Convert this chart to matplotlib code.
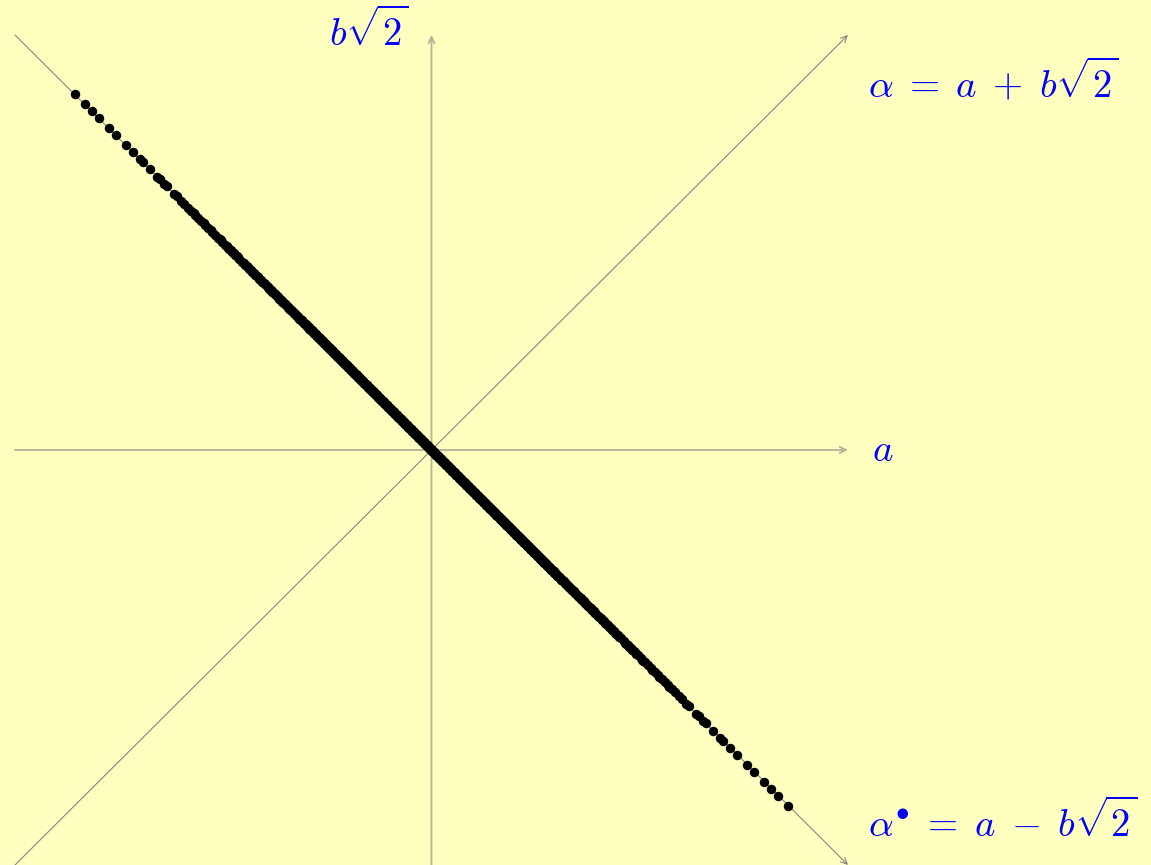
import numpy as np
import matplotlib.pyplot as plt

# window half-width in (a, b*sqrt2) coordinates
R = 1000
# elements alpha = a + b*sqrt2 of Z[sqrt2] lying close to the conjugate axis:
# |alpha| <= 1, |alpha| * |alpha_conj|**3 <= SPREAD, |alpha_conj| <= CONJ_MAX
SPREAD = 1.54e8
CONJ_MAX = 1734

label_y = r'$b\sqrt{2}$'
label_x = r'$a$'
label_alpha = r'$\alpha \;=\; a \;+\; b\sqrt{2}$'
label_conj = r'$\alpha^{\bullet} \;=\; a \;-\; b\sqrt{2}$'

s2 = np.sqrt(2)
A = []
B = []
bmax = int(CONJ_MAX / (2 * s2)) + 2
for b in range(-bmax, bmax + 1):
    a0 = int(round(-b * s2))
    for a in range(a0 - 2, a0 + 3):
        al = a + b * s2
        ac = a - b * s2
        if abs(ac) <= CONJ_MAX and abs(al) <= 1 and abs(al) * abs(ac) ** 3 <= SPREAD:
            A.append(a)
            B.append(b)

bg = '#ffffc0'
blue = '#0000ff'
plt.rcParams['mathtext.fontset'] = 'cm'
fig = plt.figure(figsize=(11.51, 8.65), dpi=100, facecolor=bg)
ax = fig.add_axes([15 / 1151, 0, 833 / 1151, 830 / 865])
ax.set_facecolor(bg)
ax.set_xlim(-R, R)
ax.set_ylim(-R, R)
ax.axis('off')

axis_col = '#b4b09a'
diag_col = '#858585'
arr = '->,head_length=0.45,head_width=0.22'

# diagonals: alpha axis and conjugate axis
ax.annotate('', xy=(R, R), xytext=(-R, -R), annotation_clip=False,
            arrowprops=dict(arrowstyle=arr, color=diag_col, lw=0.8, shrinkA=0, shrinkB=0))
ax.annotate('', xy=(R, -R), xytext=(-R, R), annotation_clip=False,
            arrowprops=dict(arrowstyle=arr, color=diag_col, lw=0.8, shrinkA=0, shrinkB=0))
# a axis and b*sqrt2 axis
ax.annotate('', xy=(R, 0), xytext=(-R, 0), annotation_clip=False,
            arrowprops=dict(arrowstyle=arr, color=axis_col, lw=1.3, shrinkA=0, shrinkB=0))
ax.annotate('', xy=(0, R), xytext=(0, -R), annotation_clip=False,
            arrowprops=dict(arrowstyle=arr, color=axis_col, lw=1.3, shrinkA=0, shrinkB=0))

ax.plot(np.array(A), np.array(B) * s2, 'o', color='black', ms=5.8, zorder=3, clip_on=False)

fs = 28
fig.text(409 / 1151, 1 - 46 / 865, label_y, color=blue, fontsize=fs, ha='right', va='baseline')
fig.text(868 / 1151, 1 - 97 / 865, label_alpha, color=blue, fontsize=fs, ha='left', va='baseline')
fig.text(872 / 1151, 1 - 461 / 865, label_x, color=blue, fontsize=fs, ha='left', va='baseline')
fig.text(868 / 1151, 1 - 837 / 865, label_conj, color=blue, fontsize=fs, ha='left', va='baseline')

fig.savefig('out.png', dpi=100, facecolor=bg)
